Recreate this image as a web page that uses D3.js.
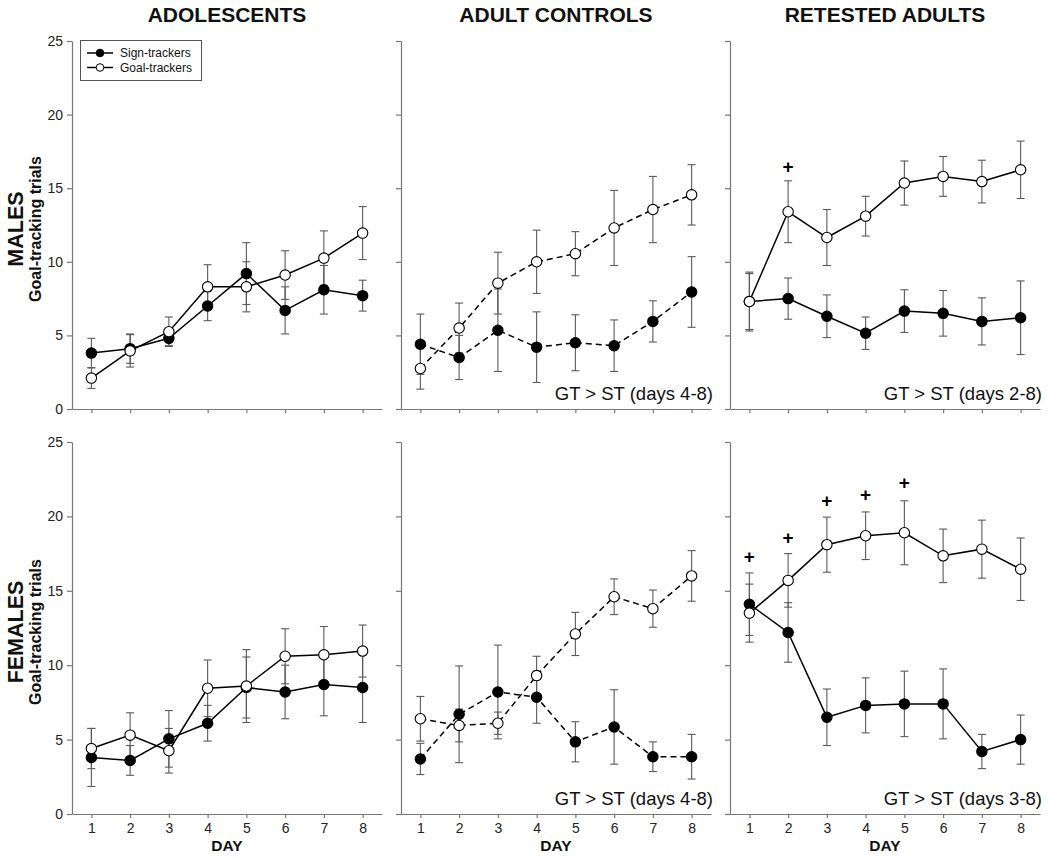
<!DOCTYPE html>
<html><head><meta charset="utf-8">
<script src="https://cdn.jsdelivr.net/npm/d3@7"></script>
<style>body{margin:0;background:#fff}svg{font-family:"Liberation Sans",Arial,sans-serif}</style>
</head><body><svg id="c" width="1050" height="859"></svg>
<script>
const days=[1,2,3,4,5,6,7,8];
const yTicks=[0,5,10,15,20,25];
const groups=["ADOLESCENTS","ADULT CONTROLS","RETESTED ADULTS"];
const sexes=["MALES","FEMALES"];
const seriesNames=["Sign-trackers","Goal-trackers"];
const yLabel="Goal-tracking trials";
const xLabel="DAY";

// MALES
const mAdolST=[3.8,4.1,4.8,7.0,9.2,6.7,8.1,7.7];
const mAdolSTerr=[1.0,1.0,0.5,1.0,2.1,1.6,1.65,1.05];
const mAdolGT=[2.1,3.95,5.25,8.3,8.3,9.1,10.25,11.95];
const mAdolGTerr=[0.7,1.1,1.0,1.5,1.7,1.65,1.85,1.8];
const mCtrlST=[4.4,3.5,5.35,4.2,4.5,4.3,5.95,7.95];
const mCtrlSTerr=[2.05,1.5,2.8,2.4,1.9,1.75,1.4,2.4];
const mCtrlGT=[2.75,5.5,8.55,10.0,10.55,12.3,13.55,14.55];
const mCtrlGTerr=[1.4,1.7,2.1,2.15,1.5,2.55,2.25,2.05];
const mRetST=[7.3,7.5,6.3,5.15,6.65,6.5,5.95,6.2];
const mRetSTerr=[1.9,1.4,1.45,1.1,1.45,1.55,1.6,2.5];
const mRetGT=[7.3,13.4,11.65,13.1,15.35,15.8,15.45,16.25];
const mRetGTerr=[2.0,2.1,1.9,1.35,1.5,1.35,1.45,1.95];
const mRetPlusDays=[2];
const mRetPlusVals=[16.45];

// FEMALES
const fAdolST=[3.8,3.6,5.05,6.1,8.5,8.2,8.7,8.5];
const fAdolSTerr=[1.95,1.0,1.9,1.2,2.05,1.8,2.1,2.35];
const fAdolGT=[4.4,5.3,4.25,8.45,8.6,10.6,10.7,10.95];
const fAdolGTerr=[1.35,1.5,1.5,1.9,2.45,1.85,1.9,1.75];
const fCtrlST=[3.7,6.7,8.2,7.85,4.85,5.85,3.85,3.85];
const fCtrlSTerr=[1.05,3.25,3.15,1.75,1.35,2.5,1.0,1.5];
const fCtrlGT=[6.4,5.95,6.1,9.3,12.1,14.6,13.8,16.0];
const fCtrlGTerr=[1.5,1.1,0.75,1.3,1.45,1.2,1.25,1.7];
const fRetST=[14.1,12.2,6.5,7.3,7.4,7.4,4.2,5.0];
const fRetSTerr=[2.1,2.0,1.9,1.85,2.2,2.35,1.15,1.65];
const fRetGT=[13.5,15.7,18.1,18.7,18.9,17.35,17.8,16.45];
const fRetGTerr=[1.95,1.8,1.85,1.6,2.15,1.8,1.95,2.1];
const fRetPlusDays=[1,2,3,4,5];
const fRetPlusVals=[17.3,18.6,21.05,21.45,22.3];

const notes=[["","GT > ST (days 4-8)","GT > ST (days 2-8)"],["","GT > ST (days 4-8)","GT > ST (days 3-8)"]];

const panelsData=[
 [ {st:mAdolST,ste:mAdolSTerr,gt:mAdolGT,gte:mAdolGTerr,pd:[],pv:[]},
   {st:mCtrlST,ste:mCtrlSTerr,gt:mCtrlGT,gte:mCtrlGTerr,pd:[],pv:[]},
   {st:mRetST,ste:mRetSTerr,gt:mRetGT,gte:mRetGTerr,pd:mRetPlusDays,pv:mRetPlusVals} ],
 [ {st:fAdolST,ste:fAdolSTerr,gt:fAdolGT,gte:fAdolGTerr,pd:[],pv:[]},
   {st:fCtrlST,ste:fCtrlSTerr,gt:fCtrlGT,gte:fCtrlGTerr,pd:[],pv:[]},
   {st:fRetST,ste:fRetSTerr,gt:fRetGT,gte:fRetGTerr,pd:fRetPlusDays,pv:fRetPlusVals} ]
];

const svg=d3.select("#c");
const colX=[72,401,730], panelW=310;
const rowY=[[41,409],[442,814]];
const axisCol="#777", errCol="#5a5a5a";

groups.forEach((g,c)=>{
  svg.append("text").attr("x",colX[c]+155).attr("y",22).attr("text-anchor","middle")
    .attr("font-size",21).attr("font-weight","bold").attr("fill","#111").text(g);
});

sexes.forEach((s,r)=>{
  const cy=(rowY[r][0]+rowY[r][1])/2+4;
  svg.append("text").attr("transform",`translate(23,${cy}) rotate(-90)`).attr("text-anchor","middle")
    .attr("font-size",21.5).attr("font-weight","bold").attr("fill","#111").text(s);
  svg.append("text").attr("transform",`translate(41,${cy}) rotate(-90)`).attr("text-anchor","middle")
    .attr("font-size",16).attr("font-weight","bold").attr("fill","#111").text(yLabel);
});

for(let r=0;r<2;r++){
  for(let c=0;c<3;c++){
    const d=panelsData[r][c];
    const x=d3.scaleLinear().domain([0.5,8.5]).range([colX[c],colX[c]+panelW]);
    const y=d3.scaleLinear().domain([0,25]).range([rowY[r][1],rowY[r][0]]);
    const g=svg.append("g");
    const ya=d3.axisLeft(y).tickValues(yTicks).tickSize(5).tickSizeOuter(0).tickPadding(4);
    if(c>0) ya.tickFormat("");
    const yg=g.append("g").attr("transform",`translate(${colX[c]},0)`).call(ya);
    const xa=d3.axisBottom(x).tickValues(days).tickSize(4).tickSizeOuter(0).tickPadding(5);
    if(r===0) xa.tickFormat("");
    const xg=g.append("g").attr("transform",`translate(0,${rowY[r][1]})`).call(xa);
    [yg,xg].forEach(a=>{
      a.select(".domain").attr("stroke",axisCol).attr("stroke-width",1.2);
      a.selectAll(".tick line").attr("stroke",axisCol).attr("stroke-width",1.2);
      a.selectAll(".tick text").attr("font-size",14).attr("fill","#222").attr("font-family","Liberation Sans, Arial, sans-serif");
    });
    if(r===1){
      svg.append("text").attr("x",colX[c]+155).attr("y",851).attr("text-anchor","middle")
        .attr("font-size",15.5).attr("font-weight","bold").attr("fill","#111").text(xLabel);
    }
    const dash = c===1 ? "6,4" : null;
    const series=[{v:d.st,e:d.ste,fill:"#000"},{v:d.gt,e:d.gte,fill:"#fff"}];
    series.forEach(sr=>{
      const eg=g.append("g").attr("stroke",errCol).attr("stroke-width",1.1);
      days.forEach((dy,i)=>{
        const xx=x(dy), y1=y(sr.v[i]+sr.e[i]), y2=y(sr.v[i]-sr.e[i]);
        eg.append("line").attr("x1",xx).attr("x2",xx).attr("y1",y1).attr("y2",y2);
        eg.append("line").attr("x1",xx-4).attr("x2",xx+4).attr("y1",y1).attr("y2",y1);
        eg.append("line").attr("x1",xx-4).attr("x2",xx+4).attr("y1",y2).attr("y2",y2);
      });
    });
    const line=d3.line().x((v,i)=>x(days[i])).y(v=>y(v));
    series.forEach(sr=>{
      g.append("path").attr("d",line(sr.v)).attr("fill","none").attr("stroke","#000")
        .attr("stroke-width",1.5).attr("stroke-dasharray",dash);
    });
    series.forEach(sr=>{
      g.selectAll(null).data(sr.v).enter().append("circle")
        .attr("cx",(v,i)=>x(days[i])).attr("cy",v=>y(v)).attr("r",5.2)
        .attr("fill",sr.fill).attr("stroke","#000").attr("stroke-width",1.1);
    });
    d.pd.forEach((dy,i)=>{
      g.append("text").attr("x",x(dy)).attr("y",y(d.pv[i])+6.5).attr("text-anchor","middle")
        .attr("font-size",19).attr("font-weight","bold").attr("fill","#000").text("+");
    });
    if(notes[r][c]){
      g.append("text").attr("x",colX[c]+panelW+2).attr("y",rowY[r][1]-9).attr("text-anchor","end")
        .attr("font-size",18.5).attr("fill","#111").text(notes[r][c]);
    }
    if(r===0&&c===0){
      const lg=g.append("g");
      lg.append("rect").attr("x",80.5).attr("y",40.5).attr("width",121).attr("height",40)
        .attr("fill","#fff").attr("stroke","#555").attr("stroke-width",1);
      seriesNames.forEach((nm,i)=>{
        const ly=53+i*14.5;
        lg.append("line").attr("x1",87).attr("x2",113).attr("y1",ly).attr("y2",ly).attr("stroke","#000").attr("stroke-width",1.5);
        lg.append("circle").attr("cx",100).attr("cy",ly).attr("r",3.8).attr("fill",i===0?"#000":"#fff").attr("stroke","#000").attr("stroke-width",1);
        lg.append("text").attr("x",120).attr("y",ly+4.3).attr("font-size",12).attr("fill","#111").text(nm);
      });
    }
  }
}
</script></body></html>
